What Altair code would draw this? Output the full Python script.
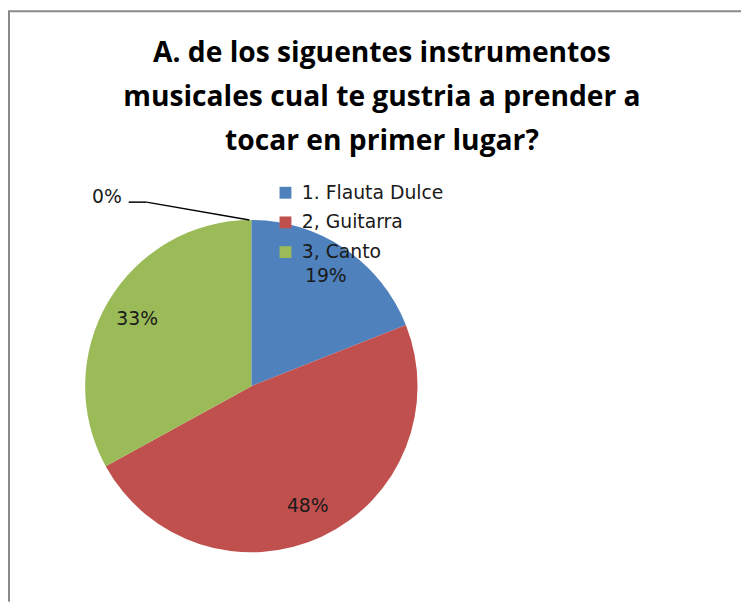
import altair as alt
import pandas as pd

categories = ["1. Flauta Dulce", "2, Guitarra", "3, Canto"]
percents = [19, 48, 33]
colors = ["#4F81BD", "#C0504D", "#9BBB59"]
order_vals = [1, 2, 3]
title_lines = ["A. de los siguentes instrumentos",
               "musicales cual te gustria a prender a",
               "tocar en primer lugar?"]
zero_label = ["0%"]

df = pd.DataFrame({"cat": categories, "pct": percents, "ord": order_vals})
df["label"] = df["pct"].astype(str) + "%"

W, H = 741, 597
CX, CY, R = 246, 379, 168
FONT = "DejaVu Sans"

pie = alt.Chart(df).mark_arc(radius=R, x=CX, y=CY).encode(
    theta=alt.Theta("pct:Q", stack=True),
    order=alt.Order("ord:Q"),
    color=alt.Color("cat:N", scale=alt.Scale(domain=categories, range=colors),
                    legend=alt.Legend(title=None)),
)

labels = alt.Chart(df).mark_text(radius=134, x=CX, y=CY, fontSize=19, font=FONT,
                                 color="#1a1a1a").encode(
    theta=alt.Theta("pct:Q", stack=True),
    order=alt.Order("ord:Q"),
    text="label:N",
)

one = pd.DataFrame({"t": [0]})
title = alt.Chart(one).mark_text(text=title_lines, align="center", baseline="alphabetic",
                                 fontSize=28.5, font="Open Sans", fontWeight="bold",
                                 lineHeight=44.5, color="#000000").encode(
    x=alt.value(378), y=alt.value(51))

border_left = alt.Chart(one).mark_rule(color="#888888", strokeWidth=2).encode(
    x=alt.value(1), y=alt.value(0), y2=alt.value(H))
border_top = alt.Chart(one).mark_rule(color="#888888", strokeWidth=2).encode(
    x=alt.value(0), x2=alt.value(W), y=alt.value(0))

leader1 = alt.Chart(one).mark_rule(color="#000000", strokeWidth=1.5).encode(
    x=alt.value(122), x2=alt.value(140), y=alt.value(193), y2=alt.value(193))
leader2 = alt.Chart(one).mark_rule(color="#000000", strokeWidth=1.5).encode(
    x=alt.value(140), x2=alt.value(244), y=alt.value(193), y2=alt.value(211))

zero_text = alt.Chart(pd.DataFrame({"lab": zero_label})).mark_text(
    align="right", baseline="middle", fontSize=19, font=FONT, color="#1a1a1a").encode(
    x=alt.value(115), y=alt.value(188), text="lab:N")

chart = alt.layer(border_left, border_top, pie, labels, title, leader1, leader2, zero_text).properties(
    width=W, height=H, autosize="none", padding=0, background="white"
).configure_view(stroke=None).configure_legend(
    orient="none", legendX=271, legendY=174, symbolType="square", symbolSize=144,
    labelFontSize=19, labelFont=FONT, labelColor="#1a1a1a", rowPadding=10,
    labelOffset=7, padding=0, symbolStrokeWidth=0, symbolOpacity=1
)

chart.save("out.html", embed_options={"renderer": "svg", "actions": False})
